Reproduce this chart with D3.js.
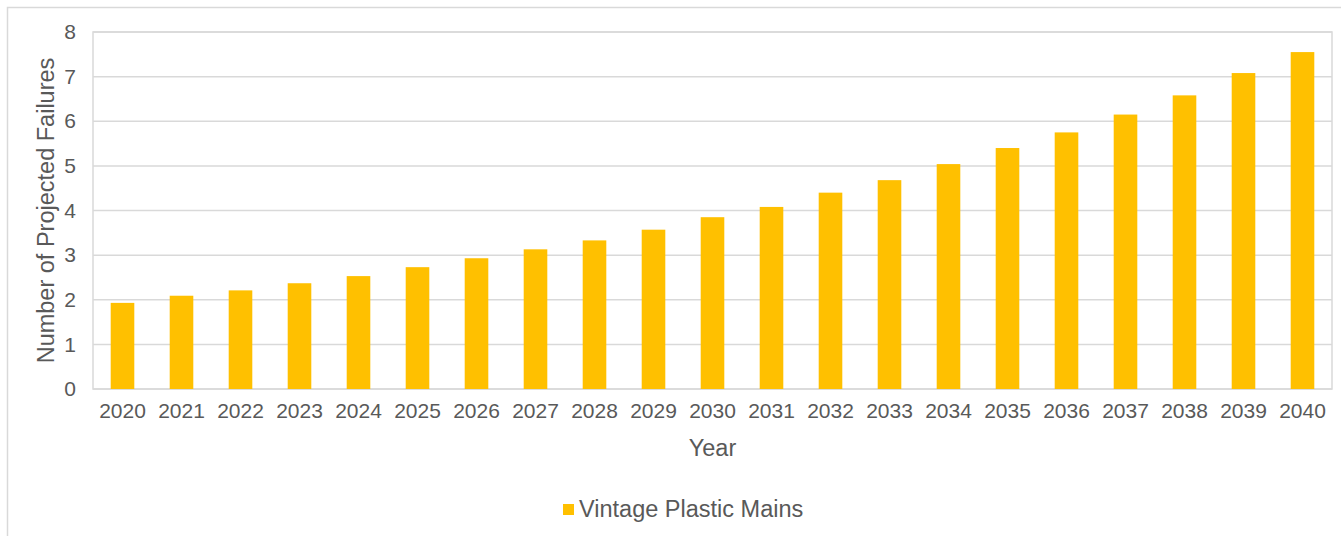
<!DOCTYPE html>
<html>
<head>
<meta charset="utf-8">
<script src="https://cdn.jsdelivr.net/npm/d3@7"></script>
<style>
  html, body { margin: 0; padding: 0; background: #fff; }
  svg { display: block; }
  text { font-family: "Liberation Sans", Arial, sans-serif; fill: #595959; }
</style>
</head>
<body>
<svg id="chart" width="1341" height="536"></svg>
<script>
// Projected failures per year for vintage plastic mains
const years = ["2020","2021","2022","2023","2024","2025","2026","2027","2028","2029",
               "2030","2031","2032","2033","2034","2035","2036","2037","2038","2039","2040"];
const failures = [1.93, 2.09, 2.21, 2.37, 2.53, 2.73, 2.93, 3.13, 3.33, 3.57,
                  3.85, 4.08, 4.40, 4.68, 5.04, 5.40, 5.75, 6.15, 6.58, 7.08, 7.55];
const yTicks = [0, 1, 2, 3, 4, 5, 6, 7, 8];
const seriesName = "Vintage Plastic Mains";
const xTitle = "Year";
const yTitle = "Number of Projected Failures";

const svg = d3.select("#chart");
const plot = { left: 93, right: 1332, top: 32, bottom: 389 };
const gridColor = "#D9D9D9";
const barColor = "#FFC000";

// outer chart frame (extends past the right and bottom edges)
svg.append("rect")
  .attr("x", 7.5).attr("y", 7.5)
  .attr("width", 1400).attr("height", 600)
  .attr("fill", "none").attr("stroke", gridColor).attr("stroke-width", 1.5);

const x = d3.scaleBand().domain(years).range([plot.left, plot.right]).paddingInner(0.6).paddingOuter(0.3);
const y = d3.scaleLinear().domain([0, 8]).range([plot.bottom, plot.top]);

// horizontal gridlines
svg.append("g")
  .selectAll("line")
  .data(yTicks)
  .join("line")
  .attr("x1", plot.left).attr("x2", plot.right)
  .attr("y1", d => y(d)).attr("y2", d => y(d))
  .attr("stroke", gridColor).attr("stroke-width", 1.5);

// plot area border
svg.append("rect")
  .attr("x", plot.left).attr("y", plot.top)
  .attr("width", plot.right - plot.left).attr("height", plot.bottom - plot.top)
  .attr("fill", "none").attr("stroke", gridColor).attr("stroke-width", 1.5);

// bars
svg.append("g")
  .selectAll("rect")
  .data(years.map((yr, i) => ({ yr, v: failures[i] })))
  .join("rect")
  .attr("x", d => x(d.yr))
  .attr("width", x.bandwidth())
  .attr("y", d => y(d.v))
  .attr("height", d => y(0) - y(d.v))
  .attr("fill", barColor);

// y axis tick labels
const yAxis = d3.axisLeft(y).tickValues(yTicks).tickSize(0).tickPadding(17);
const gy = svg.append("g").attr("transform", `translate(${plot.left},0)`).call(yAxis);
gy.select(".domain").remove();
gy.selectAll("text").attr("font-size", 21).attr("font-family", "Liberation Sans, Arial, sans-serif").attr("fill", "#595959");

// x axis tick labels
const xAxis = d3.axisBottom(x).tickSize(0).tickPadding(14);
const gx = svg.append("g").attr("transform", `translate(0,${plot.bottom})`).call(xAxis);
gx.select(".domain").remove();
gx.selectAll("text").attr("font-size", 21).attr("font-family", "Liberation Sans, Arial, sans-serif").attr("fill", "#595959");

// axis titles
svg.append("text")
  .attr("x", (plot.left + plot.right) / 2).attr("y", 456)
  .attr("text-anchor", "middle").attr("font-size", 23.5)
  .text(xTitle);

svg.append("text")
  .attr("transform", `translate(54,${(plot.top + plot.bottom) / 2}) rotate(-90)`)
  .attr("text-anchor", "middle").attr("font-size", 23.5)
  .text(yTitle);

// legend
const legend = svg.append("g").attr("transform", "translate(563,504)");
legend.append("rect").attr("width", 11).attr("height", 11).attr("fill", barColor);
legend.append("text").attr("x", 16).attr("y", 13).attr("font-size", 23.5).text(seriesName);
</script>
</body>
</html>
